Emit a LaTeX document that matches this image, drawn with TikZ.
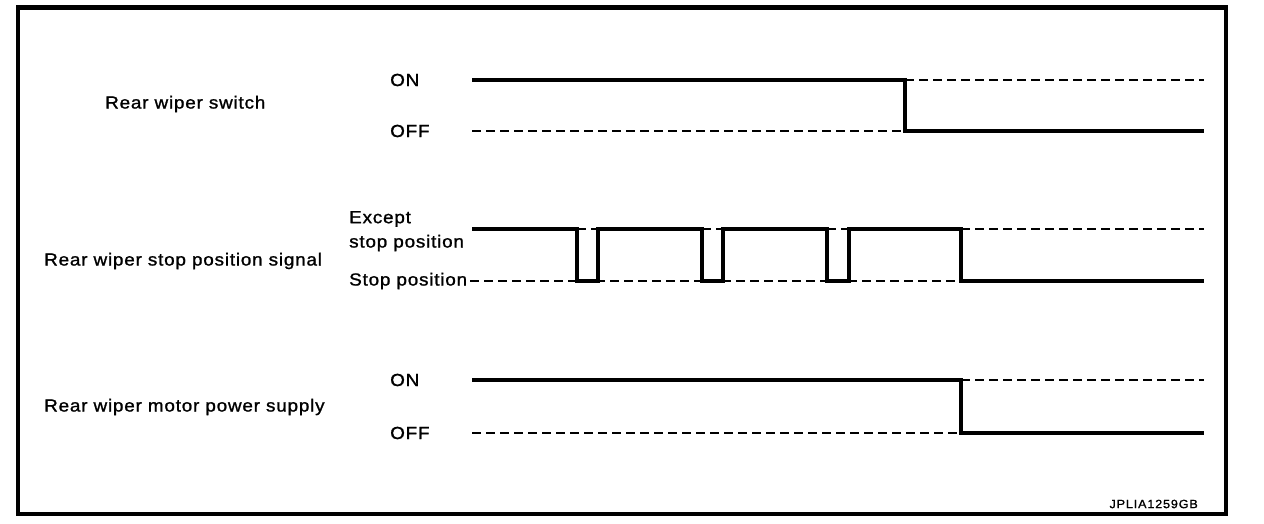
\documentclass[tikz,border=0pt]{standalone}
\usepackage{fontspec}
\setmainfont{Liberation Sans}[FakeStretch=1.08,LetterSpace=4.5,FakeBold=1.2]
\newfontfamily\codefont{Liberation Sans}[FakeStretch=1.05,LetterSpace=7,FakeBold=1.2]
\begin{document}
\begin{tikzpicture}[x=1pt,y=-1pt,
  wave/.style={line width=3.6pt, line join=miter},
  refline/.style={line width=1.7pt, dash pattern=on 9pt off 5pt},
  lbl/.style={anchor=west, inner sep=0pt, font=\fontsize{17.5}{21}\selectfont},
  code/.style={anchor=east, inner sep=0pt, font=\codefont\fontsize{12}{14}\selectfont},
  frame/.style={line width=4.5pt}]
\useasboundingbox (0,0) rectangle (1264,524);
\draw[frame] (18,7.5) rectangle (1226,514);

% ---------- labels ----------
\node[lbl] (sw) at (105,104) {Rear wiper switch};
\node[lbl] (swon) at (390,80) {ON};
\node[lbl] (swoff) at (390,131) {OFF};

\node[lbl] (sp) at (44,261) {Rear wiper stop position signal};
\node[lbl] (spex1) at (349,219) {Except};
\node[lbl] (spex2) at (349,243) {stop position};
\node[lbl] (spstop) at (349,281) {Stop position};

\node[lbl] (mp) at (44,407) {Rear wiper motor power supply};
\node[lbl] (mpon) at (390,380) {ON};
\node[lbl] (mpoff) at (390,433) {OFF};

\node[code] (id) at (1198,504) {JPLIA1259GB};

% ---------- row 1: rear wiper switch ----------
\coordinate (a0) at (472,80);
\coordinate (a1) at (905,80);
\coordinate (a2) at (905,131);
\coordinate (a3) at (1204,131);
\coordinate (aH) at (1204,80);
\coordinate (aL) at (472,131);
\draw[refline] (a1) -- (aH);
\draw[refline] (aL) -- (a2);
\draw[wave] (a0) -- (a1) -- (a2) -- (a3);

% ---------- row 2: stop position signal ----------
\coordinate (b0) at (472,229);
\coordinate (b1) at (577,229);  \coordinate (b1l) at (577,281);
\coordinate (b2) at (598,229);  \coordinate (b2l) at (598,281);
\coordinate (b3) at (702,229);  \coordinate (b3l) at (702,281);
\coordinate (b4) at (723,229);  \coordinate (b4l) at (723,281);
\coordinate (b5) at (827,229);  \coordinate (b5l) at (827,281);
\coordinate (b6) at (849,229);  \coordinate (b6l) at (849,281);
\coordinate (b7) at (961,229);  \coordinate (b7l) at (961,281);
\coordinate (bH) at (1204,229);
\coordinate (bE) at (1204,281);
\coordinate (bL) at (470,281);
\draw[refline] (b1) -- (b2);
\draw[refline] (b3) -- (b4);
\draw[refline] (b5) -- (b6);
\draw[refline] (b7) -- (bH);
\draw[refline] (bL) -- (b7l);
\draw[wave] (b0) -- (b1) -- (b1l) -- (b2l) -- (b2) -- (b3) -- (b3l) -- (b4l) -- (b4)
  -- (b5) -- (b5l) -- (b6l) -- (b6) -- (b7) -- (b7l) -- (bE);

% ---------- row 3: motor power supply ----------
\coordinate (c0) at (472,380);
\coordinate (c1) at (961,380);
\coordinate (c2) at (961,433);
\coordinate (c3) at (1204,433);
\coordinate (cH) at (1204,380);
\coordinate (cL) at (472,433);
\draw[refline] (c1) -- (cH);
\draw[refline] (cL) -- (c2);
\draw[wave] (c0) -- (c1) -- (c2) -- (c3);
\end{tikzpicture}
\end{document}
